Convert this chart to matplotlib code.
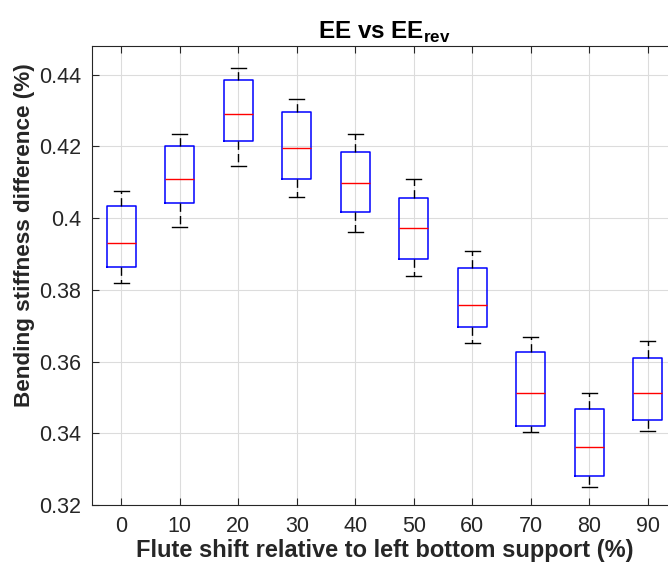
import matplotlib
matplotlib.use("Agg")
import matplotlib.pyplot as plt

plt.rcParams['font.family'] = ['Liberation Sans', 'DejaVu Sans']
plt.rcParams['mathtext.fontset'] = 'custom'
plt.rcParams['mathtext.bf'] = 'Liberation Sans:bold'
plt.rcParams['mathtext.rm'] = 'Liberation Sans'

# flute shift positions (%)
shifts = [0, 10, 20, 30, 40, 50, 60, 70, 80, 90]

# box statistics of the stiffness difference (%)
whisker_low = [0.3820, 0.3976, 0.4144, 0.4060, 0.3962, 0.3838, 0.3651, 0.3404, 0.3251, 0.3407]
q1 = [0.3865, 0.4042, 0.4215, 0.4109, 0.4016, 0.3886, 0.3696, 0.3421, 0.3281, 0.3437]
medians = [0.3931, 0.4109, 0.4291, 0.4196, 0.4098, 0.3972, 0.3759, 0.3512, 0.3362, 0.3511]
q3 = [0.4035, 0.4202, 0.4386, 0.4297, 0.4184, 0.4056, 0.3862, 0.3628, 0.3467, 0.3609]
whisker_high = [0.4076, 0.4235, 0.4420, 0.4332, 0.4235, 0.4110, 0.3909, 0.3669, 0.3513, 0.3658]

stats = []
for i, s in enumerate(shifts):
    stats.append({'label': str(s), 'whislo': whisker_low[i], 'q1': q1[i], 'med': medians[i],
                  'q3': q3[i], 'whishi': whisker_high[i], 'fliers': []})

fig = plt.figure(figsize=(6.68, 5.69), dpi=100)
ax = fig.add_axes([92 / 668, 64 / 569, 585 / 668, 459 / 569])

ax.bxp(stats, positions=range(1, len(shifts) + 1), widths=0.5, showfliers=False,
       boxprops=dict(color='#0000ff', linewidth=1.1),
       medianprops=dict(color='#ff0000', linewidth=1.0),
       whiskerprops=dict(color='black', linewidth=1.0, linestyle=(0, (6, 3))),
       capprops=dict(color='black', linewidth=1.0),
       capwidths=0.25)

ax.set_xlim(0.5, len(shifts) + 0.5)
ax.set_ylim(0.32, 0.448)
ax.set_yticks([0.32, 0.34, 0.36, 0.38, 0.40, 0.42, 0.44])
ax.set_yticklabels(['0.32', '0.34', '0.36', '0.38', '0.4', '0.42', '0.44'])
ax.set_xticks(range(1, len(shifts) + 1))
ax.set_xticklabels([str(s) for s in shifts])

ax.grid(True, color='#dcdcdc', linewidth=0.8)
ax.set_axisbelow(True)
ax.tick_params(direction='in', top=True, right=True, length=5, width=0.8,
               color='#262626', labelsize=15.5, labelcolor='#262626', pad=8)
for sp in ax.spines.values():
    sp.set_color('#262626')
    sp.set_linewidth(0.8)

ax.set_title(r'EE vs EE$_{\mathbf{rev}}$', fontsize=17.5, fontweight='bold', pad=5)
ax.set_xlabel('Flute shift relative to left bottom support (%)', fontsize=17,
              fontweight='bold', color='#262626', labelpad=1)
ax.set_ylabel('Bending stiffness difference (%)', fontsize=16.2, fontweight='bold',
              color='#262626', labelpad=6)
ax.yaxis.set_label_coords(-0.097, 0.588)

fig.savefig('out.png', dpi=100)
